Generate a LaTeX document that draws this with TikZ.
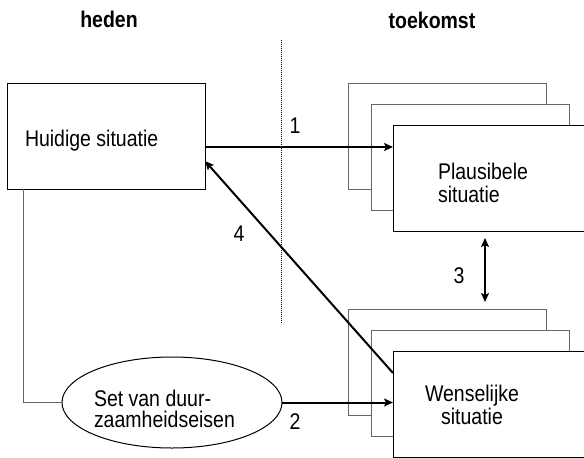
\documentclass[tikz,border=0pt]{standalone}
\usepackage{fontspec}
\setmainfont[FakeStretch=0.86]{Liberation Sans}
\usetikzlibrary{arrows.meta,shapes.geometric}
\begin{document}
\begin{tikzpicture}[x=0.75pt,y=-0.75pt,
  every node/.style={inner sep=0pt,outer sep=0pt},
  txt/.style={font=\fontsize{17}{17.25}\selectfont},
  head/.style={font=\bfseries\fontsize{17}{17.25}\selectfont},
  box/.style={draw=black,line width=0.75pt,fill=white,anchor=north west,minimum width=148.5pt,minimum height=79.5pt},
  backbox/.style={box,draw=black!60},
  tip/.tip={Stealth[length=6.75pt,width=6pt,inset=1.5pt]},
  arr/.style={line width=1.5pt,-tip},
  biarr/.style={line width=1.5pt,tip-tip},
  link/.style={draw=black!60,line width=0.75pt},
  divider/.style={line width=0.75pt,dash pattern=on 0.75pt off 0.75pt}]
\useasboundingbox (0,0) rectangle (584,457);
\clip (0,0) rectangle (584,457);
% headings
\node[head,anchor=base] (heden) at (109,27) {heden};
\node[head,anchor=base] (toekomst) at (432,28) {toekomst};
% divider
\coordinate (dtop) at (281,40);
\coordinate (dbot) at (281,323);
\draw[divider] (dtop) -- (dbot);
% current situation
\node[box] (huidige) at (7,83) {};
\node[txt,anchor=base west] (htext) at (25,146) {Huidige situatie};
% plausible stack
\node[backbox] (pback) at (348,83) {};
\node[backbox] (pmid) at (371,104) {};
\node[box] (pfront) at (393,125) {};
\node[txt,align=left,anchor=north west] (ptext) at (438,163) {Plausibele\\situatie};
% desirable stack
\node[backbox] (wback) at (348,309) {};
\node[backbox] (wmid) at (371,330) {};
\node[box] (wfront) at (393,351) {};
\node[txt,align=center,anchor=north] (wtext) at (472,385) {Wenselijke\\situatie};
% requirements
\node[draw=black,line width=0.75pt,ellipse,minimum width=165pt,minimum height=68.25pt] (set) at (172,402.5) {};
\node[font=\fontsize{17}{15.75}\selectfont,align=left,anchor=north west] (settext) at (94,390) {Set van duur-\\zaamheidseisen};
% connectors
\coordinate (hx) at (23,0);
\draw[link] (set.west) -| (huidige.south -| hx);
\coordinate (y1) at (0,147);
\draw[arr] (huidige.east |- y1) -- (pfront.west |- y1);
\draw[arr] (set.east) -- (set.east -| wfront.west);
\coordinate (x3) at (485,0);
\draw[biarr,shorten <=5.25pt,shorten >=5.25pt] (pfront.south -| x3) -- (wback.north -| x3);
\coordinate (y4a) at (0,373);
\coordinate (y4b) at (0,161);
\draw[arr] (wfront.west |- y4a) -- (huidige.east |- y4b);
% labels
\node[txt,anchor=base] (l1) at (295,133) {1};
\node[txt,anchor=base] (l2) at (295,429) {2};
\node[txt,anchor=base] (l3) at (459,283) {3};
\node[txt,anchor=base] (l4) at (239,241) {4};
\end{tikzpicture}
\end{document}
